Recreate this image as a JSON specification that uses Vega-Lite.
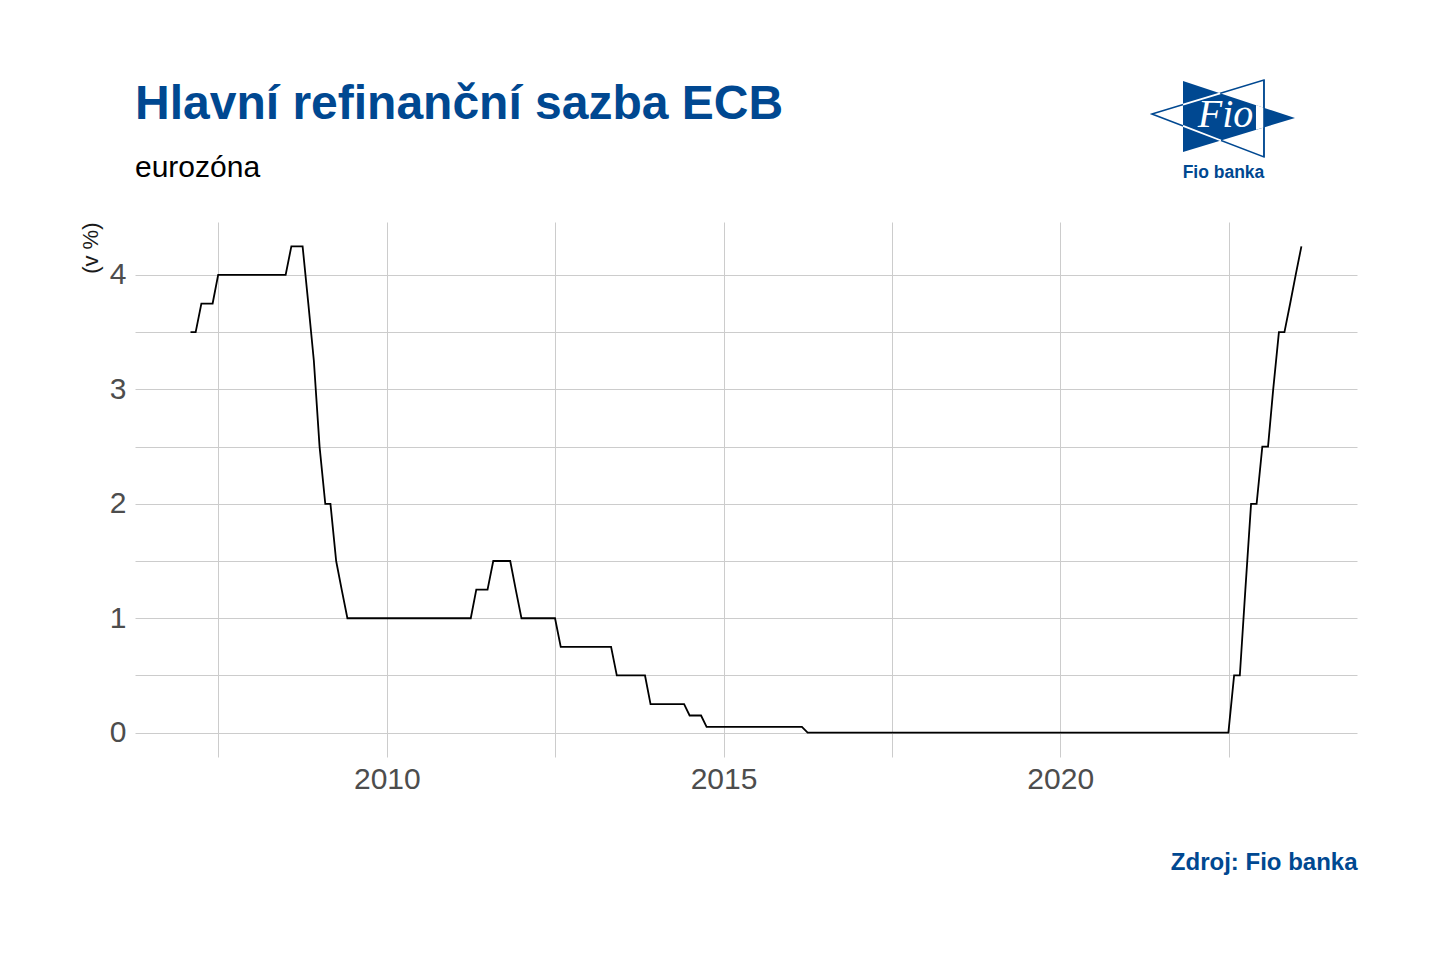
{
  "$schema": "https://vega.github.io/schema/vega-lite/v6.json",
  "autosize": "none",
  "width": 1222,
  "height": 535,
  "padding": {"left": 135, "top": 222, "right": 81, "bottom": 197},
  "background": "white",
  "config": {
    "view": {"stroke": null},
    "font": "Liberation Sans"
  },
  "title": {
    "text": "Hlavní refinanční sazba ECB",
    "subtitle": "eurozóna",
    "anchor": "start",
    "frame": "group",
    "font": "Liberation Sans",
    "fontSize": 48,
    "fontWeight": "bold",
    "color": "#004891",
    "subtitleFont": "Liberation Sans",
    "subtitleFontSize": 30,
    "subtitleColor": "#000000",
    "subtitlePadding": 24,
    "offset": -106
  },
  "datasets": {
    "ecb": [
      {"date":"2007-02-01","rate":3.5},{"date":"2007-03-01","rate":3.5},{"date":"2007-04-01","rate":3.75},{"date":"2007-05-01","rate":3.75},{"date":"2007-06-01","rate":3.75},{"date":"2007-07-01","rate":4},{"date":"2007-08-01","rate":4},{"date":"2007-09-01","rate":4},{"date":"2007-10-01","rate":4},{"date":"2007-11-01","rate":4},{"date":"2007-12-01","rate":4},
      {"date":"2008-01-01","rate":4},{"date":"2008-02-01","rate":4},{"date":"2008-03-01","rate":4},{"date":"2008-04-01","rate":4},{"date":"2008-05-01","rate":4},{"date":"2008-06-01","rate":4},{"date":"2008-07-01","rate":4},{"date":"2008-08-01","rate":4.25},{"date":"2008-09-01","rate":4.25},{"date":"2008-10-01","rate":4.25},{"date":"2008-11-01","rate":3.75},{"date":"2008-12-01","rate":3.25},
      {"date":"2009-01-01","rate":2.5},{"date":"2009-02-01","rate":2},{"date":"2009-03-01","rate":2},{"date":"2009-04-01","rate":1.5},{"date":"2009-05-01","rate":1.25},{"date":"2009-06-01","rate":1},{"date":"2009-07-01","rate":1},{"date":"2009-08-01","rate":1},{"date":"2009-09-01","rate":1},{"date":"2009-10-01","rate":1},{"date":"2009-11-01","rate":1},{"date":"2009-12-01","rate":1},
      {"date":"2010-01-01","rate":1},{"date":"2010-02-01","rate":1},{"date":"2010-03-01","rate":1},{"date":"2010-04-01","rate":1},{"date":"2010-05-01","rate":1},{"date":"2010-06-01","rate":1},{"date":"2010-07-01","rate":1},{"date":"2010-08-01","rate":1},{"date":"2010-09-01","rate":1},{"date":"2010-10-01","rate":1},{"date":"2010-11-01","rate":1},{"date":"2010-12-01","rate":1},
      {"date":"2011-01-01","rate":1},{"date":"2011-02-01","rate":1},{"date":"2011-03-01","rate":1},{"date":"2011-04-01","rate":1},{"date":"2011-05-01","rate":1.25},{"date":"2011-06-01","rate":1.25},{"date":"2011-07-01","rate":1.25},{"date":"2011-08-01","rate":1.5},{"date":"2011-09-01","rate":1.5},{"date":"2011-10-01","rate":1.5},{"date":"2011-11-01","rate":1.5},{"date":"2011-12-01","rate":1.25},
      {"date":"2012-01-01","rate":1},{"date":"2012-02-01","rate":1},{"date":"2012-03-01","rate":1},{"date":"2012-04-01","rate":1},{"date":"2012-05-01","rate":1},{"date":"2012-06-01","rate":1},{"date":"2012-07-01","rate":1},{"date":"2012-08-01","rate":0.75},{"date":"2012-09-01","rate":0.75},{"date":"2012-10-01","rate":0.75},{"date":"2012-11-01","rate":0.75},{"date":"2012-12-01","rate":0.75},
      {"date":"2013-01-01","rate":0.75},{"date":"2013-02-01","rate":0.75},{"date":"2013-03-01","rate":0.75},{"date":"2013-04-01","rate":0.75},{"date":"2013-05-01","rate":0.75},{"date":"2013-06-01","rate":0.5},{"date":"2013-07-01","rate":0.5},{"date":"2013-08-01","rate":0.5},{"date":"2013-09-01","rate":0.5},{"date":"2013-10-01","rate":0.5},{"date":"2013-11-01","rate":0.5},{"date":"2013-12-01","rate":0.25},
      {"date":"2014-01-01","rate":0.25},{"date":"2014-02-01","rate":0.25},{"date":"2014-03-01","rate":0.25},{"date":"2014-04-01","rate":0.25},{"date":"2014-05-01","rate":0.25},{"date":"2014-06-01","rate":0.25},{"date":"2014-07-01","rate":0.15},{"date":"2014-08-01","rate":0.15},{"date":"2014-09-01","rate":0.15},{"date":"2014-10-01","rate":0.05},{"date":"2014-11-01","rate":0.05},{"date":"2014-12-01","rate":0.05},
      {"date":"2015-01-01","rate":0.05},{"date":"2015-02-01","rate":0.05},{"date":"2015-03-01","rate":0.05},{"date":"2015-04-01","rate":0.05},{"date":"2015-05-01","rate":0.05},{"date":"2015-06-01","rate":0.05},{"date":"2015-07-01","rate":0.05},{"date":"2015-08-01","rate":0.05},{"date":"2015-09-01","rate":0.05},{"date":"2015-10-01","rate":0.05},{"date":"2015-11-01","rate":0.05},{"date":"2015-12-01","rate":0.05},
      {"date":"2016-01-01","rate":0.05},{"date":"2016-02-01","rate":0.05},{"date":"2016-03-01","rate":0.05},{"date":"2016-04-01","rate":0},{"date":"2016-05-01","rate":0},{"date":"2016-06-01","rate":0},{"date":"2016-07-01","rate":0},{"date":"2016-08-01","rate":0},{"date":"2016-09-01","rate":0},{"date":"2016-10-01","rate":0},{"date":"2016-11-01","rate":0},{"date":"2016-12-01","rate":0},
      {"date":"2017-01-01","rate":0},{"date":"2017-02-01","rate":0},{"date":"2017-03-01","rate":0},{"date":"2017-04-01","rate":0},{"date":"2017-05-01","rate":0},{"date":"2017-06-01","rate":0},{"date":"2017-07-01","rate":0},{"date":"2017-08-01","rate":0},{"date":"2017-09-01","rate":0},{"date":"2017-10-01","rate":0},{"date":"2017-11-01","rate":0},{"date":"2017-12-01","rate":0},
      {"date":"2018-01-01","rate":0},{"date":"2018-02-01","rate":0},{"date":"2018-03-01","rate":0},{"date":"2018-04-01","rate":0},{"date":"2018-05-01","rate":0},{"date":"2018-06-01","rate":0},{"date":"2018-07-01","rate":0},{"date":"2018-08-01","rate":0},{"date":"2018-09-01","rate":0},{"date":"2018-10-01","rate":0},{"date":"2018-11-01","rate":0},{"date":"2018-12-01","rate":0},
      {"date":"2019-01-01","rate":0},{"date":"2019-02-01","rate":0},{"date":"2019-03-01","rate":0},{"date":"2019-04-01","rate":0},{"date":"2019-05-01","rate":0},{"date":"2019-06-01","rate":0},{"date":"2019-07-01","rate":0},{"date":"2019-08-01","rate":0},{"date":"2019-09-01","rate":0},{"date":"2019-10-01","rate":0},{"date":"2019-11-01","rate":0},{"date":"2019-12-01","rate":0},
      {"date":"2020-01-01","rate":0},{"date":"2020-02-01","rate":0},{"date":"2020-03-01","rate":0},{"date":"2020-04-01","rate":0},{"date":"2020-05-01","rate":0},{"date":"2020-06-01","rate":0},{"date":"2020-07-01","rate":0},{"date":"2020-08-01","rate":0},{"date":"2020-09-01","rate":0},{"date":"2020-10-01","rate":0},{"date":"2020-11-01","rate":0},{"date":"2020-12-01","rate":0},
      {"date":"2021-01-01","rate":0},{"date":"2021-02-01","rate":0},{"date":"2021-03-01","rate":0},{"date":"2021-04-01","rate":0},{"date":"2021-05-01","rate":0},{"date":"2021-06-01","rate":0},{"date":"2021-07-01","rate":0},{"date":"2021-08-01","rate":0},{"date":"2021-09-01","rate":0},{"date":"2021-10-01","rate":0},{"date":"2021-11-01","rate":0},{"date":"2021-12-01","rate":0},
      {"date":"2022-01-01","rate":0},{"date":"2022-02-01","rate":0},{"date":"2022-03-01","rate":0},{"date":"2022-04-01","rate":0},{"date":"2022-05-01","rate":0},{"date":"2022-06-01","rate":0},{"date":"2022-07-01","rate":0},{"date":"2022-08-01","rate":0.5},{"date":"2022-09-01","rate":0.5},{"date":"2022-10-01","rate":1.25},{"date":"2022-11-01","rate":2},{"date":"2022-12-01","rate":2},
      {"date":"2023-01-01","rate":2.5},{"date":"2023-02-01","rate":2.5},{"date":"2023-03-01","rate":3},{"date":"2023-04-01","rate":3.5},{"date":"2023-05-01","rate":3.5},{"date":"2023-06-01","rate":3.75},{"date":"2023-07-01","rate":4},{"date":"2023-08-01","rate":4.25}
    ],
    "one": [{"item": "logo"}]
  },
  "layer": [
    {
      "data": {"name": "ecb"},
      "mark": {"type": "line", "color": "#000000", "strokeWidth": 1.8, "interpolate": "linear"},
      "encoding": {
        "x": {
          "field": "date",
          "type": "temporal",
          "scale": {
            "type": "utc",
            "domain": [
              {"year": 2006, "month": 4, "date": 6, "utc": true},
              {"year": 2024, "month": 5, "date": 28, "hours": 12, "utc": true}
            ]
          },
          "axis": {
            "values": [
              {"year": 2007, "month": 7, "date": 2, "utc": true},
              {"year": 2010, "month": 1, "date": 1, "utc": true},
              {"year": 2012, "month": 7, "date": 2, "utc": true},
              {"year": 2015, "month": 1, "date": 1, "utc": true},
              {"year": 2017, "month": 7, "date": 2, "utc": true},
              {"year": 2020, "month": 1, "date": 1, "utc": true},
              {"year": 2022, "month": 7, "date": 2, "utc": true}
            ],
            "labelExpr": "utcmonth(datum.value) == 0 ? utcFormat(datum.value, '%Y') : ''",
            "labelFont": "Liberation Sans",
            "labelFontSize": 30,
            "labelColor": "#4D4D4D",
            "labelPadding": 7,
            "labelOverlap": false,
            "labelFlush": false,
            "ticks": false,
            "tickSize": 0,
            "domain": false,
            "grid": true,
            "gridColor": "#CCCCCC",
            "gridWidth": 1,
            "title": "Zdroj: Fio banka",
            "titleAnchor": "end",
            "titleFont": "Liberation Sans",
            "titleFontSize": 24,
            "titleFontWeight": "bold",
            "titleColor": "#004891",
            "titlePadding": 56
          }
        },
        "y": {
          "field": "rate",
          "type": "quantitative",
          "scale": {"domain": [-0.2125, 4.4625], "nice": false, "zero": false},
          "axis": {
            "values": [0, 0.5, 1, 1.5, 2, 2.5, 3, 3.5, 4],
            "labelExpr": "datum.value % 1 == 0 ? format(datum.value, 'd') : ''",
            "labelFont": "Liberation Sans",
            "labelFontSize": 30,
            "labelColor": "#4D4D4D",
            "labelPadding": 9,
            "ticks": false,
            "tickSize": 0,
            "domain": false,
            "grid": true,
            "gridColor": "#CCCCCC",
            "gridWidth": 1,
            "title": "(v %)",
            "titleAnchor": "end",
            "titleFont": "Liberation Sans",
            "titleFontSize": 22,
            "titleFontWeight": "normal",
            "titleColor": "#1A1A1A",
            "titlePadding": 7
          }
        }
      }
    },
    {
      "data": {"name": "one"},
      "mark": {"type": "point", "shape": "M -0.894 -0.05 L 0.506 -0.475 L 0.506 0.4875 Z", "size": 25600, "filled": true, "fill": "#FFFFFF", "stroke": "#004891", "strokeWidth": 1.5, "opacity": 1, "clip": false},
      "encoding": {
        "x": {"datum": {"year": 2022, "month": 6, "date": 4, "hours": 10, "utc": true}, "type": "temporal"},
        "y": {"datum": 5.3713, "type": "quantitative"}
      }
    },
    {
      "data": {"name": "one"},
      "mark": {"type": "point", "shape": "M -0.506 -0.4625 L 0.894 0 L -0.506 0.425 Z", "size": 25600, "filled": true, "fill": "#004891", "strokeWidth": 0, "opacity": 1, "clip": false},
      "encoding": {
        "x": {"datum": {"year": 2022, "month": 6, "date": 4, "hours": 10, "utc": true}, "type": "temporal"},
        "y": {"datum": 5.3713, "type": "quantitative"}
      }
    },
    {
      "data": {"name": "one"},
      "mark": {"type": "point", "shape": "M 0.406 -0.161 L 0.506 -0.1275 L 0.506 0.1175 L 0.406 0.1475 Z", "size": 25600, "filled": true, "fill": "#FFFFFF", "strokeWidth": 0, "opacity": 1, "clip": false},
      "encoding": {
        "x": {"datum": {"year": 2022, "month": 6, "date": 4, "hours": 10, "utc": true}, "type": "temporal"},
        "y": {"datum": 5.3713, "type": "quantitative"}
      }
    },
    {
      "data": {"name": "one"},
      "mark": {"type": "point", "shape": "M -0.506 -0.1675 L -0.041 -0.309 M -0.506 0.099 L -0.031 0.281", "size": 25600, "filled": false, "stroke": "#FFFFFF", "strokeWidth": 1.8, "opacity": 1, "clip": false},
      "encoding": {
        "x": {"datum": {"year": 2022, "month": 6, "date": 4, "hours": 10, "utc": true}, "type": "temporal"},
        "y": {"datum": 5.3713, "type": "quantitative"}
      }
    },
    {
      "data": {"name": "one"},
      "mark": {"type": "point", "shape": "M 0.506 -0.475 L 0.506 0.4875", "size": 25600, "filled": false, "stroke": "#004891", "strokeWidth": 1.5, "opacity": 1, "clip": false},
      "encoding": {
        "x": {"datum": {"year": 2022, "month": 6, "date": 4, "hours": 10, "utc": true}, "type": "temporal"},
        "y": {"datum": 5.3713, "type": "quantitative"}
      }
    },
    {
      "data": {"name": "one"},
      "mark": {"type": "text", "text": "Fio", "font": "Liberation Serif", "fontSize": 40, "fontStyle": "italic", "color": "#FFFFFF", "align": "center", "baseline": "alphabetic", "dx": 2, "clip": false},
      "encoding": {
        "x": {"datum": {"year": 2022, "month": 6, "date": 4, "hours": 10, "utc": true}, "type": "temporal"},
        "y": {"datum": 5.2926, "type": "quantitative"}
      }
    },
    {
      "data": {"name": "one"},
      "mark": {"type": "text", "text": "Fio banka", "font": "Liberation Sans", "fontSize": 17.5, "fontWeight": "bold", "color": "#004891", "align": "center", "baseline": "alphabetic", "clip": false},
      "encoding": {
        "x": {"datum": {"year": 2022, "month": 6, "date": 4, "hours": 10, "utc": true}, "type": "temporal"},
        "y": {"datum": 4.843, "type": "quantitative"}
      }
    }
  ]
}
